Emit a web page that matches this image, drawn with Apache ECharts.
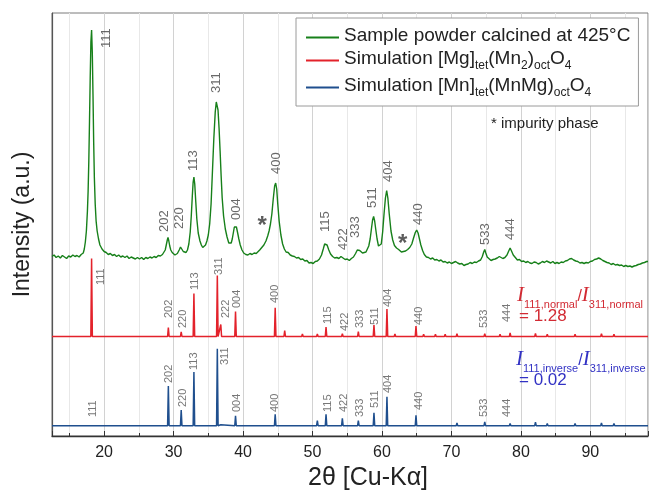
<!DOCTYPE html>
<html>
<head>
<meta charset="utf-8">
<script src="https://cdn.jsdelivr.net/npm/echarts@6/dist/echarts.min.js"></script>
<style>
  html, body { margin: 0; padding: 0; background: #fff; }
  #chart { width: 649px; height: 490px; }
</style>
</head>
<body>
<div id="chart"></div>
<script>
// Measured XRD pattern: [2θ (deg), intensity (a.u.)]
const measuredPattern = [
  [12.5, 9.5],[12.8, 11],[13.1, 8.5],[13.4, 10],[13.7, 8],[14.0, 10.5],[14.3, 9],[14.6, 7.5],[14.9, 10],[15.2, 9],
  [15.5, 11],[15.8, 9.5],[16.1, 10.5],[16.4, 9],[16.7, 11.5],[16.85, 11],[17.0, 13],[17.15, 17],[17.3, 24],[17.45, 35],
  [17.6, 55],[17.7, 75],[17.8, 105],[17.9, 145],[18.0, 188],[18.1, 224],[18.2, 236],[18.3, 214],[18.4, 172],[18.5, 124],
  [18.6, 88],[18.72, 62],[18.85, 45],[19.0, 35],[19.2, 27],[19.4, 21],[19.7, 17],[20.0, 14.5],[20.3, 13.5],[20.6, 11.5],
  [20.9, 12.5],[21.2, 10.5],[21.5, 11.5],[21.8, 9.5],[22.1, 11],[22.4, 9],[22.7, 10],[23.0, 8.5],[23.3, 10],[23.6, 7.5],
  [23.9, 9],[24.2, 8],[24.5, 7],[24.8, 8.5],[25.1, 7],[25.4, 8.5],[25.7, 6.5],[26.0, 8.5],[26.3, 7.5],[26.6, 9],
  [26.9, 8],[27.2, 9.5],[27.5, 8.5],[27.8, 10.5],[28.1, 10],[28.4, 11.5],[28.6, 13],[28.8, 16],[28.95, 21],[29.1, 26],
  [29.2, 28.5],[29.32, 25],[29.45, 20],[29.6, 16],[29.8, 13.5],[30.0, 11.5],[30.2, 11],[30.4, 12],[30.55, 12.5],[30.7, 14],
  [30.85, 16.5],[31.0, 19],[31.1, 20],[31.22, 18],[31.4, 14.5],[31.6, 12.5],[31.8, 13.5],[32.0, 16],[32.2, 22],[32.4, 34],
  [32.55, 50],[32.7, 70],[32.82, 84],[32.93, 89],[33.05, 82],[33.2, 64],[33.35, 47],[33.55, 33],[33.8, 25],[34.0, 21],
  [34.2, 18.5],[34.4, 19],[34.6, 21],[34.8, 25],[35.0, 31],[35.2, 42],[35.4, 62],[35.6, 95],[35.8, 128],[36.0, 154],
  [36.15, 164],[36.27, 166],[36.4, 156],[36.55, 138],[36.7, 115],[36.85, 90],[37.0, 68],[37.2, 50],[37.45, 37],[37.7, 29],
  [37.95, 23],[38.15, 21],[38.3, 23],[38.45, 27],[38.6, 33],[38.75, 39],[38.9, 41],[39.05, 39],[39.2, 34],[39.4, 27],
  [39.6, 21],[39.85, 16],[40.1, 13],[40.4, 11.5],[40.7, 11],[41.0, 12.5],[41.3, 11.5],[41.6, 13],[41.9, 12.5],[42.15, 14],
  [42.4, 16],[42.7, 18.5],[43.0, 21],[43.3, 25],[43.55, 30],[43.75, 35],[43.95, 42],[44.15, 52],[44.35, 67],[44.55, 80],
  [44.7, 83],[44.85, 77],[45.0, 62],[45.2, 45],[45.45, 31],[45.7, 22],[45.95, 17],[46.2, 14],[46.5, 13.5],[46.8, 11],
  [47.1, 10],[47.4, 9.5],[47.7, 8],[48.0, 8.5],[48.3, 6.5],[48.6, 7],[48.9, 5],[49.2, 5.5],[49.5, 3],[49.8, 3.5],
  [50.1, 2.5],[50.4, 4.5],[50.7, 5],[51.0, 7],[51.3, 11],[51.55, 17],[51.75, 22],[51.9, 23.5],[52.1, 21],[52.35, 16],
  [52.6, 12],[52.9, 9.5],[53.2, 8],[53.5, 8.5],[53.8, 7.5],[54.1, 9.5],[54.4, 8],[54.7, 6.5],[55.0, 7],[55.3, 5.5],
  [55.6, 7.5],[55.9, 9],[56.2, 12.5],[56.45, 16],[56.6, 18],[56.8, 15.5],[57.0, 14],[57.2, 13],[57.45, 12.5],[57.7, 14],
  [57.9, 16],[58.1, 20],[58.3, 27],[58.5, 38],[58.65, 46],[58.8, 49.5],[58.95, 45],[59.1, 37],[59.3, 27],[59.5, 20],
  [59.7, 18],[59.9, 22],[60.1, 34],[60.3, 52],[60.5, 68],[60.68, 75.5],[60.85, 68],[61.05, 52],[61.3, 35],[61.55, 26],
  [61.8, 20.5],[62.1, 18],[62.4, 16.5],[62.8, 14],[63.1, 14.5],[63.4, 15],[63.7, 16.5],[64.0, 18.5],[64.3, 22],[64.55, 28],
  [64.8, 33.5],[65.0, 36],[65.2, 33],[65.4, 27],[65.6, 21],[65.85, 15.5],[66.1, 11.5],[66.4, 9],[66.7, 8.5],[67.0, 7],
  [67.3, 8],[67.6, 6],[67.9, 6.5],[68.2, 5],[68.5, 6],[68.8, 4],[69.1, 4.5],[69.4, 3],[69.7, 4],[70.0, 2.5],
  [70.3, 3.5],[70.6, 4.5],[70.9, 3],[71.2, 2],[71.5, 2.5],[71.8, 0.5],[72.1, 1.5],[72.4, 2],[72.7, 3.5],[73.0, 2.5],
  [73.3, 4],[73.6, 3.5],[73.9, 5],[74.2, 6],[74.45, 9.5],[74.65, 14],[74.8, 16.5],[74.95, 13],[75.15, 9],[75.4, 7],
  [75.7, 5.5],[76.0, 6.5],[76.3, 7],[76.6, 8],[76.9, 9.5],[77.1, 9],[77.4, 7.5],[77.7, 8.5],[78.0, 11],[78.25, 15],
  [78.45, 18],[78.65, 15],[78.9, 11],[79.2, 8.5],[79.5, 6],[79.8, 6.5],[80.1, 4.5],[80.4, 5],[80.7, 3.5],[81.0, 4.5],
  [81.3, 3],[81.6, 2.5],[81.9, 4],[82.2, 3.5],[82.5, 2],[82.8, 3],[83.1, 4.5],[83.4, 3.5],[83.7, 5],[84.0, 4],
  [84.3, 3],[84.6, 4.5],[84.9, 2.5],[85.2, 3.5],[85.5, 2.5],[85.8, 4],[86.1, 3.5],[86.4, 5],[86.7, 5.5],[87.0, 7],
  [87.3, 7.5],[87.6, 6],[87.9, 5],[88.2, 4.5],[88.5, 3],[88.8, 3.5],[89.1, 2.5],[89.4, 3.5],[89.7, 3],[90.0, 4.5],
  [90.3, 5],[90.6, 6.5],[90.9, 7],[91.2, 8],[91.5, 7],[91.8, 5.5],[92.1, 4.5],[92.4, 3.5],[92.7, 3],[93.0, 1.5],
  [93.3, 2.5],[93.6, 1],[93.9, 1.5],[94.2, 0.5],[94.5, 1],[94.8, -0.5],[95.1, 0.5],[95.4, -0.5],[95.7, 0],[96.0, -1],
  [96.3, 0],[96.6, 0.5],[96.9, 1.5],[97.2, 2],[97.5, 3],[97.8, 3.5],[98.1, 4.5],[98.3, 4.5]
];

// Simulated normal spinel [Mg]tet(Mn2)octO4: reflection positions (2θ) and relative intensities (311 = 100)
const normalPositions = [18.2, 29.25, 31.1, 32.93, 36.3, 36.8, 38.92, 44.63, 46.0, 48.55, 50.7, 51.95, 54.3, 56.6, 58.85,
  60.72, 61.87, 64.9, 66.0, 67.7, 69.1, 70.8, 74.8, 77.0, 78.45, 82.1, 83.8, 87.8, 91.6, 93.4];
const normalIntensities = [128, 14.8, 7.7, 70.5, 100, 19.7, 41, 47, 9.8, 4, 4, 15.6, 4.4, 8.2, 18.7,
  45, 4, 17, 3.5, 3.5, 3.5, 4.5, 4.5, 3.5, 6, 5, 3.5, 3.5, 4.5, 3.5];

// Simulated inverse spinel [Mn]tet(MnMg)octO4
const inversePositions = [18.2, 29.25, 31.1, 32.93, 36.3, 36.8, 38.92, 44.63, 50.7, 51.95, 54.3, 56.6, 58.85, 60.72, 64.9,
  70.8, 73.0, 74.0, 74.8, 78.45, 82.1, 83.8, 86.9, 87.8, 91.6, 93.4];
const inverseIntensities = [2, 51.6, 20.4, 69.7, 100, 1.3, 13, 14.8, 6.5, 14.7, 9.5, 6.5, 16.9, 37.7, 13.4,
  3.5, 2, 2, 5, 3, 4.5, 3, 2, 3, 3.5, 3];

// Miller indices shown for each pattern
const measuredHkl = ['111', '202', '220', '113', '311', '004', '400', '115', '422', '333', '511', '404', '440', '533', '444'];
const normalHkl   = ['111', '202', '220', '113', '311', '222', '004', '400', '115', '422', '333', '511', '404', '440', '533', '444'];
const inverseHkl  = ['111', '202', '220', '113', '311', '004', '400', '115', '422', '333', '511', '404', '440', '533', '444'];

// x-axis ticks
const tickValues = [20, 30, 40, 50, 60, 70, 80, 90];

// ---- layout (placement of stacked patterns and their index labels) ----
const X_MIN = 12.5, X_MAX = 98.3, Y_MAX = 423;
const stack = {
  measured: { offset: 170 },
  normal:   { base: 99.5, scale: 0.61, halfWidth: 0.11 },
  inverse:  { base: 10.3, scale: 0.77, halfWidth: 0.11 }
};
// label anchor [2θ, height] (bottom of rotated text), one per hkl entry
const measuredTagAt = [[20.35, 388], [28.7, 204], [30.8, 207], [32.8, 265], [36.15, 343], [39.0, 216], [44.85, 262],
  [51.9, 204], [54.4, 186], [56.2, 198], [58.6, 228], [61.0, 254], [65.26, 211], [74.84, 191], [78.5, 196]];
const normalTagAt = [[19.6, 151], [29.3, 118], [31.35, 108], [33.07, 146], [36.5, 161], [37.5, 118], [39.1, 128], [44.6, 133],
  [52.2, 112], [54.7, 105], [56.9, 108], [59.0, 111], [60.85, 129], [65.26, 111], [74.7, 108], [78.05, 114]];
const inverseTagAt = [[18.4, 19], [29.3, 53], [31.35, 29], [32.9, 66], [37.35, 71], [39.1, 24], [44.6, 24],
  [52.2, 24], [54.6, 24], [56.9, 19], [59.0, 28], [60.85, 43], [65.26, 26], [74.7, 19], [78.05, 19]];
const impurityAt = [[42.75, 216], [63.0, 198]];

const SANS = '"Liberation Sans", Arial, Helvetica, sans-serif';
const SERIF = '"Liberation Serif", "Times New Roman", serif';
const GREEN = '#17801a', RED = '#e3222b', BLUE = '#1f4f8e';

function stickProfile(positions, intens, cfg) {
  const pts = [[X_MIN, cfg.base]];
  positions.forEach((p, i) => {
    pts.push([p - cfg.halfWidth, cfg.base], [p, cfg.base + intens[i] * cfg.scale], [p + cfg.halfWidth, cfg.base]);
  });
  pts.push([X_MAX, cfg.base]);
  return pts;
}

function tagSeries(hkl, anchors, fontSize, color) {
  return {
    type: 'scatter', symbolSize: 0, silent: true, z: 10,
    data: hkl.map((h, i) => ({ name: h, value: anchors[i] })),
    label: {
      show: true, position: 'inside', rotate: 90, align: 'left', verticalAlign: 'middle',
      formatter: '{b}', fontFamily: SANS, fontSize: fontSize, color: color
    }
  };
}

const names = {
  measured: 'Sample powder calcined at 425°C',
  normal: 'Simulation [Mg]tet(Mn2)octO4',
  inverse: 'Simulation [Mn]tet(MnMg)octO4'
};
const legendRich = {};
legendRich[names.measured] = '{m|Sample powder calcined at 425°C}';
legendRich[names.normal] = '{m|Simulation [Mg]}{s|tet}{m|(Mn}{s|2}{m|)}{s|oct}{m|O}{s|4}';
legendRich[names.inverse] = '{m|Simulation [Mn]}{s|tet}{m|(MnMg)}{s|oct}{m|O}{s|4}';

const normalRatio = (normalIntensities[0] / normalIntensities[4]).toFixed(2);
const inverseRatio = (inverseIntensities[0] / inverseIntensities[4]).toFixed(2);

function ratioRich(color) {
  return {
    i: { fontFamily: SERIF, fontStyle: 'italic', fontSize: 21, fill: color, verticalAlign: 'bottom', padding: [0, 0, 4, 0] },
    s: { fontFamily: SANS, fontSize: 11, fill: color, verticalAlign: 'bottom' },
    sl: { fontFamily: SANS, fontSize: 16, fill: color, verticalAlign: 'bottom', padding: [0, 0, 5, 0] }
  };
}

const chart = echarts.init(document.getElementById('chart'), null, { renderer: 'canvas' });
chart.setOption({
  animation: false,
  backgroundColor: '#fff',
  grid: {
    left: 52, right: 1, top: 13, bottom: 54, outerBoundsMode: 'none',
    show: true, borderColor: '#7a7a7a', borderWidth: 1
  },
  legend: {
    orient: 'vertical', left: 296, top: 18, padding: [8, 8, 7, 10], itemGap: 4,
    itemWidth: 33, itemHeight: 2, icon: 'rect',
    borderColor: '#9a9a9a', borderWidth: 1, backgroundColor: '#fff',
    data: [names.measured, names.normal, names.inverse],
    formatter: n => legendRich[n],
    textStyle: {
      fontFamily: SANS, fontSize: 19, color: '#222',
      rich: {
        m: { fontFamily: SANS, fontSize: 19, color: '#222', verticalAlign: 'bottom', padding: [0, 0, 4, 0] },
        s: { fontFamily: SANS, fontSize: 12, color: '#222', verticalAlign: 'bottom' }
      }
    }
  },
  xAxis: {
    type: 'value', min: X_MIN, max: X_MAX, splitNumber: 8,
    name: '2θ [Cu-Kα]', nameLocation: 'middle', nameGap: 28,
    nameTextStyle: { fontFamily: SANS, fontSize: 25, color: '#222', padding: [0, 0, 0, 36] },
    axisLine: { show: true, lineStyle: { color: '#333', width: 1.3 } },
    axisTick: { show: true, inside: true, length: 5, lineStyle: { color: '#333' } },
    minorTick: { show: true, splitNumber: 2, length: 3, lineStyle: { color: '#333' } },
    axisLabel: {
      fontFamily: SANS, fontSize: 16, color: '#222', margin: 9,
      showMinLabel: false, showMaxLabel: false,
      formatter: v => (tickValues.indexOf(v) >= 0 ? String(v) : '')
    },
    splitLine: { show: true, lineStyle: { color: '#d2d2d2', width: 1 } },
    minorSplitLine: { show: true, lineStyle: { color: '#e8e8e8', width: 1 } }
  },
  yAxis: {
    type: 'value', min: 0, max: Y_MAX,
    name: 'Intensity (a.u.)', nameLocation: 'middle', nameGap: 18,
    nameTextStyle: { fontFamily: SANS, fontSize: 23, color: '#222' },
    axisLine: { show: true, lineStyle: { color: '#555', width: 1.2 } },
    axisTick: { show: false }, axisLabel: { show: false }, splitLine: { show: false }
  },
  series: [
    {
      name: names.measured, type: 'line', showSymbol: false, silent: true, z: 3,
      lineStyle: { color: GREEN, width: 1.4 }, itemStyle: { color: GREEN },
      data: measuredPattern.map(p => [p[0], p[1] + stack.measured.offset])
    },
    {
      name: names.normal, type: 'line', showSymbol: false, silent: true, z: 3,
      lineStyle: { color: RED, width: 1.5 }, itemStyle: { color: RED },
      data: stickProfile(normalPositions, normalIntensities, stack.normal)
    },
    {
      name: names.inverse, type: 'line', showSymbol: false, silent: true, z: 3,
      lineStyle: { color: BLUE, width: 1.5 }, itemStyle: { color: BLUE },
      data: stickProfile(inversePositions, inverseIntensities, stack.inverse)
    },
    tagSeries(measuredHkl, measuredTagAt, 13, '#444'),
    tagSeries(normalHkl, normalTagAt, 11, '#555'),
    tagSeries(inverseHkl, inverseTagAt, 11, '#555'),
    {
      type: 'scatter', symbolSize: 0, silent: true, z: 10,
      data: impurityAt,
      label: {
        show: true, position: 'inside', formatter: '*', offset: [0, 6],
        fontFamily: SANS, fontSize: 24, fontWeight: 'bold', color: '#333'
      }
    }
  ],
  graphic: [
    {
      type: 'text', left: 491, top: 116, z: 20,
      style: { text: '* impurity phase', font: '15px ' + SANS, fill: '#222' }
    },
    {
      type: 'text', left: 517, top: 285, z: 20,
      style: { text: '{i|I}{s|111,normal}{sl|/}{i|I}{s|311,normal}', rich: ratioRich('#d22a33') }
    },
    {
      type: 'text', left: 519, top: 308, z: 20,
      style: { text: '= ' + normalRatio, font: '17px ' + SANS, fill: '#d22a33' }
    },
    {
      type: 'text', left: 516, top: 349, z: 20,
      style: { text: '{i|I}{s|111,inverse}{sl|/}{i|I}{s|311,inverse}', rich: ratioRich('#3232c4') }
    },
    {
      type: 'text', left: 519, top: 372, z: 20,
      style: { text: '= ' + inverseRatio, font: '17px ' + SANS, fill: '#3232c4' }
    }
  ]
});
</script>
</body>
</html>
